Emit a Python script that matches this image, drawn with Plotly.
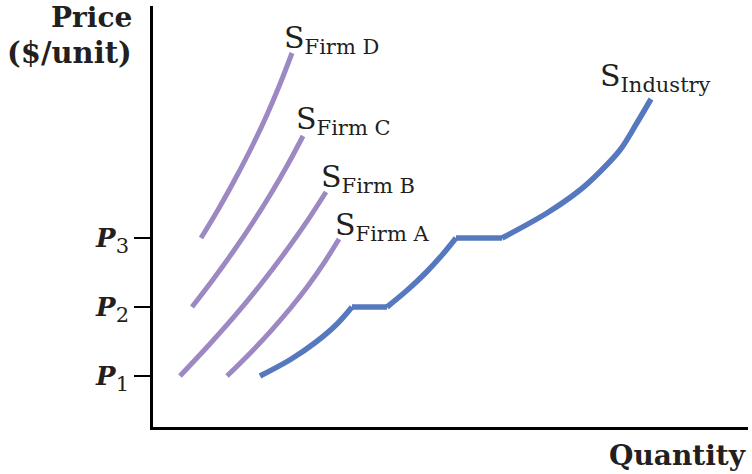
import plotly.graph_objects as go

# Price levels (P1, P2, P3) in chart units (vertical offset above the quantity axis)
price_levels = [51, 120, 189]
price_labels = ["P1", "P2", "P3"]

# Firm supply curves (quantity, price)
firm_a_q = [74, 97.1, 118.4, 138, 155.8, 171.7, 186]
firm_a_p = [51, 73.8, 96.7, 119.5, 142.3, 165.2, 188]
firm_b_q = [27, 55.7, 82.8, 108, 131.4, 153.1, 173]
firm_b_p = [51, 81.7, 112.3, 143, 173.7, 204.3, 235]
firm_c_q = [39, 60.8, 81.3, 100.5, 118.3, 134.8, 150]
firm_c_p = [120, 148.5, 177, 205.5, 234, 262.5, 291]
firm_d_q = [48, 66.5, 83.6, 99.5, 114, 127.1, 139]
firm_d_p = [189, 219.8, 250.7, 281.5, 312.3, 343.2, 374]

# Industry supply curve (quantity, price); flats at P2 and P3
industry_q = [107, 137.5, 163, 183.5, 199, 234, 255, 273.5, 289.5, 303, 349, 394, 427, 447, 467, 483.7, 498]
industry_p = [51, 67.5, 85, 102.5, 120, 120, 137.5, 155, 172.5, 189, 189, 214, 237, 255.3, 277, 303.7, 328]
# segment index ranges of industry curve: curved, flat, curved, flat, curved
industry_segments = [(0, 5, "spline"), (4, 6, "linear"), (5, 10, "spline"), (9, 11, "linear"), (10, 17, "spline")]

curve_labels = ["Firm A", "Firm B", "Firm C", "Firm D", "Industry"]

PURPLE = "#9c88c2"
BLUE = "#5678be"
TXT = "#231f20"
SERIF = "DejaVu Serif"
X_MAX, Y_MAX = 595, 421

fig = go.Figure()
for q, p in [(firm_a_q, firm_a_p), (firm_b_q, firm_b_p), (firm_c_q, firm_c_p), (firm_d_q, firm_d_p)]:
    fig.add_trace(go.Scatter(x=q, y=p, mode="lines",
                             line=dict(color=PURPLE, width=5, shape="spline"),
                             hoverinfo="skip", showlegend=False))
for a, b, shp in industry_segments:
    fig.add_trace(go.Scatter(x=industry_q[a:b], y=industry_p[a:b], mode="lines",
                             line=dict(color=BLUE, width=5.5, shape=shp),
                             hoverinfo="skip", showlegend=False))

# curve labels: S with subscript
label_pos = {"Firm A": (180, 201), "Firm B": (166, 249), "Firm C": (141, 307),
             "Firm D": (129, 388), "Industry": (445, 350)}
for name in curve_labels:
    x, y = label_pos[name]
    fig.add_annotation(x=x, y=y, xref="x", yref="y", xanchor="left", yanchor="middle",
                       text=f"S<sub>{name}</sub>", showarrow=False,
                       font=dict(family=SERIF, size=30, color=TXT))

# axis titles
fig.add_annotation(x=-19 / X_MAX, y=409 / Y_MAX, xref="paper", yref="paper",
                   xanchor="right", yanchor="middle",
                   text="<b>Price</b>", showarrow=False,
                   font=dict(family=SERIF, size=28, color=TXT))
fig.add_annotation(x=-19 / X_MAX, y=374 / Y_MAX, xref="paper", yref="paper",
                   xanchor="right", yanchor="middle",
                   text="<b>($/unit)</b>", showarrow=False,
                   font=dict(family=SERIF, size=29, color=TXT))
fig.add_annotation(x=595 / X_MAX, y=-28 / Y_MAX, xref="paper", yref="paper",
                   xanchor="right", yanchor="middle",
                   text="<b>Quantity</b>", showarrow=False,
                   font=dict(family=SERIF, size=28, color=TXT))

ticktext = [f"<b><i>{t[0]}</i></b><sub><span style='font-size:21px'>{t[1]}</span></sub>" for t in price_labels]

fig.update_layout(
    width=752, height=474,
    margin=dict(l=153, r=4, t=6, b=47),
    paper_bgcolor="white", plot_bgcolor="white",
    xaxis=dict(range=[0, X_MAX], showgrid=False, zeroline=False, showline=True,
               linecolor="black", linewidth=2.5, showticklabels=False, ticks=""),
    yaxis=dict(range=[0, Y_MAX], showgrid=False, zeroline=False, showline=True,
               linecolor="black", linewidth=2.5, tickvals=price_levels, ticktext=ticktext,
               ticks="outside", ticklen=16, tickwidth=2, tickcolor="black",
               tickfont=dict(family=SERIF, size=26, color=TXT)),
)

fig.write_html("out.html", config={"displayModeBar": False},
               post_script="document.body.style.margin='0';")
